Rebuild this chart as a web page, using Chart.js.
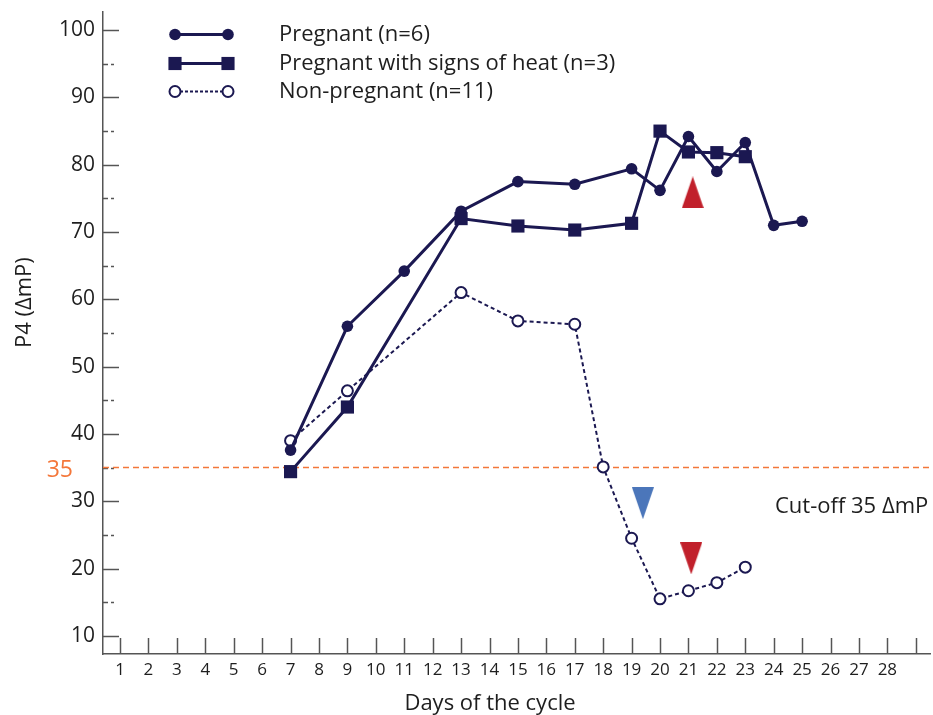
<!DOCTYPE html>
<html>
<head>
<meta charset="utf-8">
<script src="https://cdn.jsdelivr.net/npm/chart.js@4.4.0/dist/chart.umd.min.js"></script>
<style>
  html, body { margin: 0; padding: 0; background: #fff; }
</style>
</head>
<body>
<canvas id="chart" width="933" height="715"></canvas>
<script>
"use strict";

// values
const pregDays = [7, 9, 11, 13, 15, 17, 19, 20, 21, 22, 23, 24, 25];
const pregP4 = [37.6, 56.0, 64.2, 73.1, 77.5, 77.1, 79.4, 76.2, 84.2, 79.0, 83.3, 71.0, 71.6];

const heatDays = [7, 9, 13, 15, 17, 19, 20, 21, 22, 23];
const heatP4 = [34.4, 44.0, 72.0, 70.9, 70.3, 71.3, 85.0, 81.9, 81.8, 81.2];

const nonDays = [7, 9, 13, 15, 17, 18, 19, 20, 21, 22, 23];
const nonP4 = [39.0, 46.4, 61.0, 56.8, 56.3, 35.1, 24.5, 15.5, 16.7, 17.9, 20.2];

// arrow heads (up = red, down = blue / red)
const markDays = [21.15, 19.4, 21.1];
const markP4 = [75.9, 29.7, 21.5];
const markColors = ["#c1202b", "#4b76ba", "#c1202b"];
const markRotation = [0, 180, 180];

const seriesLabels = ["Pregnant (n=6)", "Pregnant with signs of heat (n=3)", "Non-pregnant (n=11)"];
const dayTicks = [1, 2, 3, 4, 5, 6, 7, 8, 9, 10, 11, 12, 13, 14, 15, 16, 17, 18, 19, 20, 21, 22, 23, 24, 25, 26, 27, 28, 29];
const p4Ticks = [10, 20, 30, 40, 50, 60, 70, 80, 90, 100];
const p4MinorTicks = [15, 25, 35, 45, 55, 65, 75, 85, 95];
const cutoff = 35;
const cutoffText = "Cut-off 35 \u0394mP";

const NAVY = "#1b1851";
const ORANGE = "#f4773a";
const TEXT = "#1e1e1e";
const AXIS = "#555";
const FONT = "'Open Sans', Lato, sans-serif";

Chart.defaults.font.family = FONT;
Chart.defaults.color = TEXT;

function pts(xs, ys) {
  return xs.map((x, i) => ({ x: x, y: ys[i] }));
}

function triangle(color) {
  let c = document.createElement("canvas");
  c.width = 22;
  c.height = 32;
  let g = c.getContext("2d");
  g.fillStyle = color;
  g.beginPath();
  g.moveTo(11, 0);
  g.lineTo(22, 32);
  g.lineTo(0, 32);
  g.closePath();
  g.fill();
  return c;
}

// axis ticks, cut-off line and free texts
const decorPlugin = {
  id: "decor",
  beforeDatasetsDraw(chart) {
    const ctx = chart.ctx;
    const xs = chart.scales.x, ys = chart.scales.y;
    const area = chart.chartArea;
    ctx.save();
    ctx.strokeStyle = AXIS;
    ctx.lineWidth = 1.5;
    p4Ticks.forEach(v => {
      let y = Math.round(ys.getPixelForValue(v)) + 0.5;
      ctx.beginPath();
      ctx.moveTo(area.left, y);
      ctx.lineTo(area.left + 16, y);
      ctx.stroke();
    });
    ctx.setLineDash([5, 3]);
    p4MinorTicks.forEach(v => {
      let y = Math.round(ys.getPixelForValue(v)) + 0.5;
      ctx.beginPath();
      ctx.moveTo(area.left, y);
      ctx.lineTo(area.left + 11, y);
      ctx.stroke();
    });
    ctx.setLineDash([]);
    dayTicks.forEach(d => {
      let x = Math.round(xs.getPixelForValue(d)) + 0.5;
      ctx.beginPath();
      ctx.moveTo(x, area.bottom);
      ctx.lineTo(x, area.bottom - 16);
      ctx.stroke();
    });

    // cut-off line
    let yc = ys.getPixelForValue(cutoff);
    ctx.strokeStyle = ORANGE;
    ctx.lineWidth = 1.5;
    ctx.setLineDash([6, 4]);
    ctx.beginPath();
    ctx.moveTo(area.left, yc);
    ctx.lineTo(area.right, yc);
    ctx.stroke();
    ctx.setLineDash([]);

    ctx.fillStyle = ORANGE;
    ctx.font = "23px " + FONT;
    ctx.textAlign = "right";
    ctx.textBaseline = "alphabetic";
    ctx.fillText(String(cutoff), 73, yc + 9);

    ctx.fillStyle = TEXT;
    ctx.font = "22px " + FONT;
    ctx.textAlign = "left";
    ctx.fillText(cutoffText, 775, 513);

    // axis titles
    ctx.textAlign = "center";
    ctx.fillText("Days of the cycle", 490, 710);
    ctx.textAlign = "left";
    ctx.translate(31, 348);
    ctx.rotate(-Math.PI / 2);
    ctx.fillText("P4 (\u0394mP)", 0, 0);
    ctx.restore();
  },
  afterDraw(chart) {
    const ctx = chart.ctx;
    const rows = [34.5, 63.5, 91.5];
    ctx.save();
    [0, 1, 2].forEach(i => {
      let ds = chart.data.datasets[i];
      let y = rows[i];
      ctx.strokeStyle = NAVY;
      ctx.lineWidth = ds.borderWidth;
      ctx.setLineDash(i === 2 ? [3, 2] : []);
      ctx.beginPath();
      ctx.moveTo(175, y);
      ctx.lineTo(228, y);
      ctx.stroke();
      ctx.setLineDash([]);
      ctx.fillStyle = ds.pointBackgroundColor;
      ctx.strokeStyle = ds.pointBorderColor;
      ctx.lineWidth = ds.pointBorderWidth;
      let opts = { pointStyle: ds.pointStyle, radius: ds.pointRadius, rotation: 0, borderWidth: ds.pointBorderWidth };
      Chart.helpers.drawPoint(ctx, opts, 175, y);
      Chart.helpers.drawPoint(ctx, opts, 228, y);
      ctx.fillStyle = TEXT;
      ctx.font = "22px " + FONT;
      ctx.textAlign = "left";
      ctx.textBaseline = "alphabetic";
      ctx.fillText(ds.label, 279, y + 6.5);
    });
    ctx.restore();
  }
};

const chart = new Chart(document.getElementById("chart"), {
  type: "line",
  data: {
    datasets: [
      {
        label: seriesLabels[0],
        data: pts(pregDays, pregP4),
        borderColor: NAVY,
        borderWidth: 3,
        pointStyle: "circle",
        pointRadius: 5.8,
        pointBackgroundColor: NAVY,
        pointBorderColor: NAVY,
        pointBorderWidth: 0,
        order: 2
      },
      {
        label: seriesLabels[1],
        data: pts(heatDays, heatP4),
        borderColor: NAVY,
        borderWidth: 3,
        pointStyle: "rect",
        pointRadius: 9.3,
        pointBackgroundColor: NAVY,
        pointBorderColor: NAVY,
        pointBorderWidth: 0,
        order: 1
      },
      {
        label: seriesLabels[2],
        data: pts(nonDays, nonP4),
        borderColor: NAVY,
        borderWidth: 2,
        borderDash: [4, 3],
        pointStyle: "circle",
        pointRadius: 5.5,
        pointBackgroundColor: "#fff",
        pointBorderColor: NAVY,
        pointBorderWidth: 2,
        order: 3
      },
      {
        label: "markers",
        type: "scatter",
        data: pts(markDays, markP4),
        pointStyle: markColors.map(c => triangle(c)),
        pointRotation: markRotation,
        pointRadius: 16,
        order: 0
      }
    ]
  },
  options: {
    responsive: false,
    animation: false,
    events: [],
    layout: { autoPadding: false, padding: { top: 12, right: 3, left: 0, bottom: 0 } },
    plugins: { legend: { display: false }, tooltip: { enabled: false } },
    scales: {
      x: {
        type: "linear",
        min: 0.4,
        max: 29.5,
        afterBuildTicks: s => { s.ticks = dayTicks.map(v => ({ value: v })); },
        afterFit: s => { s.height = 61; s.paddingLeft = 0; s.paddingRight = 0; },
        grid: { display: false, drawTicks: false },
        border: { display: true, color: AXIS, width: 1.5 },
        ticks: {
          autoSkip: false,
          maxRotation: 0,
          padding: 6,
          font: { size: 17 },
          color: TEXT,
          callback: v => (v <= 28 ? String(v) : "")
        }
      },
      y: {
        type: "linear",
        min: 7.3,
        max: 102.7,
        afterBuildTicks: s => { s.ticks = p4Ticks.map(v => ({ value: v })); },
        afterFit: s => { s.width = 103; s.paddingTop = 0; s.paddingBottom = 0; },
        grid: { display: false, drawTicks: false },
        border: { display: true, color: AXIS, width: 1.5 },
        ticks: {
          padding: 8,
          font: { size: 21 },
          color: TEXT
        }
      }
    }
  },
  plugins: [decorPlugin]
});
</script>
</body>
</html>
